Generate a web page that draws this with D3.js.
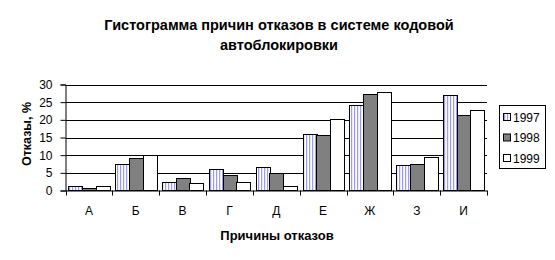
<!DOCTYPE html>
<html><head><meta charset="utf-8">
<script src="https://cdn.jsdelivr.net/npm/d3@7"></script>
<style>body{margin:0;background:#fff}svg{display:block}text{font-family:"Liberation Sans",Arial,sans-serif}</style>
</head><body>
<script>
const categories = ["А","Б","В","Г","Д","Е","Ж","З","И"];
const seriesNames = ["1997","1998","1999"];
const v1997 = [1.4, 7.4, 2.5, 6.0, 6.6, 16.1, 24.1, 7.1, 26.9];
const v1998 = [0.6, 9.1, 3.4, 4.5, 5.0, 15.6, 27.4, 7.4, 21.5];
const v1999 = [1.4, 10.0, 2.0, 2.5, 1.4, 20.1, 28.0, 9.6, 22.9];
const yTicks = [0, 5, 10, 15, 20, 25, 30];
const titleLines = ["Гистограмма причин отказов в системе кодовой", "автоблокировки"];
const yTitle = "Отказы, %";
const xTitle = "Причины отказов";

(function(){
const W = 555, H = 260;
const svg = d3.select("body").append("svg").attr("width", W).attr("height", H);
const defs = svg.append("defs");
const pat = defs.append("pattern").attr("id","stripes").attr("patternUnits","userSpaceOnUse")
  .attr("width",3).attr("height",4);
pat.append("rect").attr("width",3).attr("height",4).attr("fill","#fff");
pat.append("rect").attr("x",0).attr("width",1.2).attr("height",4).attr("fill","#9999ff");
const fills = ["url(#stripes)", "#808080", "#ffffff"];

const pLeft = 65.5, pRight = 487, pTop = 84.5, pBottom = 190.5;
const x0 = d3.scaleBand().domain(categories).range([pLeft, pRight]).paddingInner(0).paddingOuter(0);
const x1 = d3.scaleBand().domain(seriesNames).range([0, x0.bandwidth()]).paddingInner(0).paddingOuter(0.21);
const y = d3.scaleLinear().domain([0, 30]).range([pBottom, pTop]);

svg.append("g").selectAll("line").data(yTicks.filter(d=>d>0)).join("line")
  .attr("x1", pLeft).attr("x2", pRight).attr("y1", d=>Math.round(y(d))+0.5).attr("y2", d=>Math.round(y(d))+0.5)
  .attr("stroke","#000").attr("stroke-width",1);

const series = [v1997, v1998, v1999];
const g = svg.append("g");
categories.forEach((c, i) => {
  seriesNames.forEach((s, j) => {
    const val = series[j][i];
    const xs = Math.round(x0(c) + x1(s)) + 0.5;
    const w = Math.round(x1.bandwidth());
    const yt = Math.round(y(val)) + 0.5;
    g.append("rect").attr("x", xs).attr("y", yt).attr("width", w).attr("height", Math.max(0, pBottom - yt))
      .attr("fill", fills[j]).attr("stroke","#000").attr("stroke-width",1);
  });
});

const yAxis = d3.axisLeft(y).tickValues(yTicks).tickSize(5).tickPadding(8).tickFormat(d3.format("d"));
const ya = svg.append("g").attr("transform", `translate(${pLeft},0)`).call(yAxis);
ya.select(".domain").attr("stroke","#000");
ya.selectAll("text").attr("font-size", 12).attr("fill","#000").attr("font-family",'"Liberation Sans",Arial,sans-serif');

const xa = svg.append("g").attr("transform", `translate(0,${pBottom})`)
  .call(d3.axisBottom(x0).tickSize(0).tickPadding(16));
xa.select(".domain").attr("stroke","#000").attr("d", `M${pLeft},0.5H${pRight}`);
xa.selectAll("text").attr("font-size", 12).attr("fill","#000").attr("font-family",'"Liberation Sans",Arial,sans-serif');
const bounds = categories.map(c => x0(c)).concat([pRight]);
svg.append("g").selectAll("line").data(bounds).join("line")
  .attr("x1", d=>Math.round(d)+0.5).attr("x2", d=>Math.round(d)+0.5)
  .attr("y1", pBottom).attr("y2", pBottom+5).attr("stroke","#000");

svg.append("text").attr("x", 279).attr("text-anchor","middle").attr("font-weight","bold").attr("font-size",14.5)
  .selectAll("tspan").data(titleLines).join("tspan").attr("x",279).attr("y",(d,i)=>30+i*19.5).text(d=>d);
svg.append("text").attr("transform","translate(31,134) rotate(-90)").attr("text-anchor","middle")
  .attr("font-weight","bold").attr("font-size",12.5).text(yTitle);
svg.append("text").attr("x",277).attr("y",240).attr("text-anchor","middle")
  .attr("font-weight","bold").attr("font-size",13).text(xTitle);

const lg = svg.append("g");
lg.append("rect").attr("x",499.5).attr("y",105.5).attr("width",46).attr("height",63).attr("fill","#fff").attr("stroke","#000");
const ly = [117, 137.5, 158];
seriesNames.forEach((s, j) => {
  lg.append("rect").attr("x",503.5).attr("y",ly[j]-3.5).attr("width",7).attr("height",7)
    .attr("fill", fills[j]).attr("stroke","#000");
  lg.append("text").attr("x",513).attr("y",ly[j]+4.5).attr("font-size",12).text(s);
});
})();
</script>
</body></html>
